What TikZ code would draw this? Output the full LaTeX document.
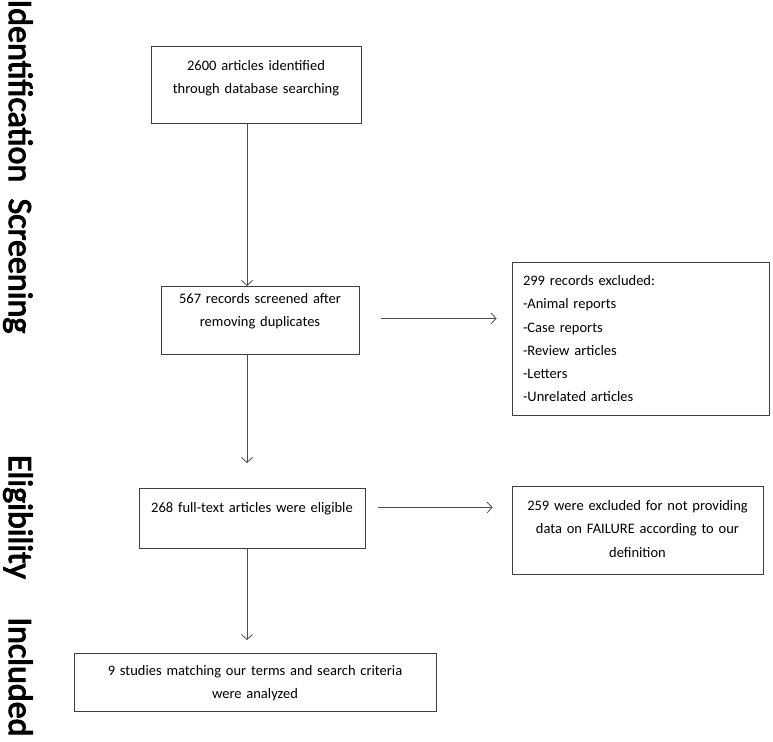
\documentclass[tikz,border=0pt]{standalone}
\usepackage{fontspec}
\setmainfont{Carlito}
\newfontfamily\stagefont[FakeBold=3]{Carlito}
\usetikzlibrary{arrows.meta,positioning}

\begin{document}
\begin{tikzpicture}[x=1pt,y=-1pt,
  box/.style={draw=black!75, line width=0.9pt, inner sep=0pt, align=center, anchor=north, font=\fontsize{14.5}{23.3}\selectfont},
  stage/.style={rotate=-90, anchor=base, font=\fontsize{34}{34}\stagefont},
  link/.style={draw=black!70, line width=0.8pt, -{Straight Barb[length=5pt,width=11pt]}}]
\useasboundingbox (0,0) rectangle (773,741);
% stages on the left
\node[stage] (StageIdent) at (9,91) {Identification};
\node[stage] (StageScreen) at (9,266) {Screening};
\node[stage] (StageElig) at (9,517) {Eligibility};
\node[stage] (StageIncl) at (9,677) {Included};
% main column
\node[box, text width=210pt, text height=24pt, text depth=53pt] (Records) at (256,46) {2600 articles identified\\through database searching};
\node[box, text width=198pt, text height=17pt, text depth=51pt] (Screened) at (260,286) {567 records screened after\\removing duplicates};
\node[box, text width=226pt, text height=24pt, text depth=36pt] (Eligible) at (252,488) {268 full-text articles were eligible};
\node[box, text width=362pt, text height=22pt, text depth=36pt] (Included) at (255,653) {9 studies matching our terms and search criteria\\were analyzed};
% exclusions
\node[box, align=left, inner xsep=11pt, text width=235pt, text height=23pt, text depth=130pt] (Excluded) at (640.5,262) {299 records excluded:\\-Animal reports\\-Case reports\\-Review articles\\-Letters\\-Unrelated articles};
\node[box, text width=251pt, text height=24pt, text depth=64pt] (NotProviding) at (637.5,486) {259 were excluded for not providing\\data on FAILURE according to our\\definition};
\draw[link] ([xshift=-9pt]Records.south) -- ([xshift=-9pt]Records.south |- Screened.north);
\draw[link, shorten >=25pt] ([xshift=-13pt]Screened.south) -- ([xshift=-13pt]Screened.south |- Eligible.north);
\draw[link, shorten >=13pt] ([xshift=-5pt]Eligible.south) -- ([xshift=-5pt]Eligible.south |- Included.north);
\draw[link, shorten <=22pt, shorten >=15pt] ([yshift=2pt]Screened.east) -- ([yshift=2pt]Screened.east -| Excluded.west);
\draw[link, shorten <=13pt, shorten >=19pt] ([yshift=11pt]Eligible.east) -- ([yshift=11pt]Eligible.east -| NotProviding.west);
\end{tikzpicture}
\end{document}
